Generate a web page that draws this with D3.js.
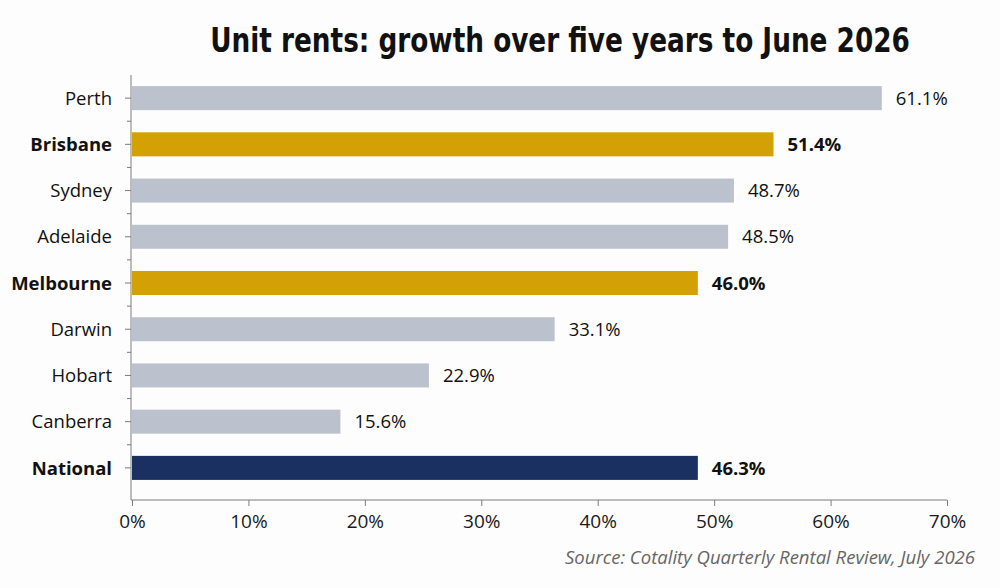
<!DOCTYPE html>
<html>
<head>
<meta charset="utf-8">
<script src="https://cdn.jsdelivr.net/npm/d3@7"></script>
<style>
  body { margin: 0; background: #fdfdfd; }
  text { font-family: "Open Sans", sans-serif; }
</style>
</head>
<body>
<div class="grafico"></div>
<script>
var cities = ["Perth", "Brisbane", "Sydney", "Adelaide", "Melbourne", "Darwin", "Hobart", "Canberra", "National"];
// growth shown in the labels
var growth = [61.1, 51.4, 48.7, 48.5, 46.0, 33.1, 22.9, 15.6, 46.3];
// bar lengths as drawn in the source (they run a bit past the labelled value)
var barValues = [64.4, 55.1, 51.7, 51.2, 48.6, 36.3, 25.5, 17.9, 48.6];
var kind = ["other", "focus", "other", "other", "focus", "other", "other", "other", "national"];
var xTicks = [0, 10, 20, 30, 40, 50, 60, 70];

var width = 1000;
var height = 588;
var colores = { other: "#bcc2cd", focus: "#d3a106", national: "#1a3060" };

var svg = d3.select('.grafico')
  .append('svg')
  .attr('width', width)
  .attr('height', height);

// title: narrow bold, squeezed to the width it has in the source
var titulo = svg.append('text')
  .attr('text-anchor', 'middle')
  .style('font-family', '"Liberation Sans Narrow", "DejaVu Sans Condensed", sans-serif')
  .style('font-weight', 'bold')
  .style('font-size', '34px')
  .style('fill', '#111')
  .text('Unit rents: growth over five years to June 2026');
var largo = titulo.node().getComputedTextLength();
titulo.attr('transform', 'translate(560, 52) scale(' + (700 / largo) + ', 1)');

var xScale = d3.scaleLinear()
  .domain([0, 70])
  .range([132, 947]);

var yScale = d3.scaleBand()
  .domain(cities)
  .range([75, 491])
  .paddingInner(0.48)
  .paddingOuter(0.24);

// x axis
var xAxis = d3.axisBottom(xScale)
  .tickValues(xTicks)
  .tickFormat(function (d) { return d + '%'; })
  .tickSize(6)
  .tickPadding(9);

var gx = svg.append('g')
  .attr('transform', 'translate(0, 500)')
  .call(xAxis);
gx.select('.domain').attr('stroke', '#7c7c7c').attr('d', 'M131,0H947');
gx.selectAll('.tick line').attr('stroke', '#7c7c7c');
gx.selectAll('.tick text')
  .style('font-size', '19px')
  .style('fill', '#1a1a1a');

// y axis line and ticks
svg.append('line')
  .attr('x1', 131).attr('x2', 131)
  .attr('y1', 75).attr('y2', 500)
  .attr('stroke', '#7c7c7c');

var step = yScale.step();
svg.selectAll('.ytick')
  .data(cities)
  .enter()
  .append('line')
  .attr('x1', 125).attr('x2', 131)
  .attr('y1', function (d) { return yScale(d) + yScale.bandwidth() / 2; })
  .attr('y2', function (d) { return yScale(d) + yScale.bandwidth() / 2; })
  .attr('stroke', '#7c7c7c');

svg.selectAll('.ysep')
  .data(cities.slice(1))
  .enter()
  .append('line')
  .attr('x1', 127).attr('x2', 131)
  .attr('y1', function (d) { return yScale(d) + yScale.bandwidth() / 2 - step / 2; })
  .attr('y2', function (d) { return yScale(d) + yScale.bandwidth() / 2 - step / 2; })
  .attr('stroke', '#7c7c7c');

// bars
svg.selectAll('rect.bar')
  .data(cities)
  .enter()
  .append('rect')
  .attr('class', 'bar')
  .attr('x', xScale(0))
  .attr('y', function (d) { return yScale(d); })
  .attr('width', function (d, i) { return xScale(barValues[i]) - xScale(0); })
  .attr('height', yScale.bandwidth())
  .attr('fill', function (d, i) { return colores[kind[i]]; });

// category labels
svg.selectAll('text.cat')
  .data(cities)
  .enter()
  .append('text')
  .attr('class', 'cat')
  .attr('x', 112)
  .attr('y', function (d) { return yScale(d) + yScale.bandwidth() / 2; })
  .attr('dy', '0.36em')
  .attr('text-anchor', 'end')
  .style('font-size', '18.5px')
  .style('font-weight', function (d, i) { return kind[i] === 'other' ? 'normal' : 'bold'; })
  .style('fill', '#111')
  .text(function (d) { return d; });

// value labels
svg.selectAll('text.val')
  .data(cities)
  .enter()
  .append('text')
  .attr('class', 'val')
  .attr('x', function (d, i) { return xScale(barValues[i]) + 14; })
  .attr('y', function (d) { return yScale(d) + yScale.bandwidth() / 2; })
  .attr('dy', '0.36em')
  .style('font-size', '18.5px')
  .style('font-weight', function (d, i) { return kind[i] === 'other' ? 'normal' : 'bold'; })
  .style('fill', '#111')
  .text(function (d, i) { return growth[i].toFixed(1) + '%'; });

svg.append('text')
  .attr('x', 975)
  .attr('y', 564)
  .attr('text-anchor', 'end')
  .attr('textLength', 410)
  .attr('lengthAdjust', 'spacingAndGlyphs')
  .style('font-size', '18px')
  .style('font-style', 'italic')
  .style('fill', '#666')
  .text('Source: Cotality Quarterly Rental Review, July 2026');
</script>
</body>
</html>
